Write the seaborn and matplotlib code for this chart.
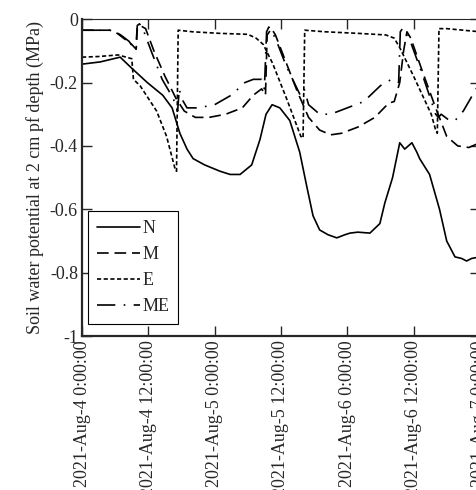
import pandas as pd
import numpy as np
import seaborn as sns
import matplotlib.pyplot as plt

start = pd.Timestamp("2021-08-04 00:00:00")

# hours since start, and soil water potential (MPa)
n_hours = [0, 3.3, 6.9, 9.0, 11.8, 14.6, 16.3, 17.7, 19.0, 20.1, 22.2, 25.0, 26.8, 28.6,
           30.7, 32.2, 33.3, 34.4, 35.8, 37.6, 39.4, 40.7, 41.8, 43.0, 44.5, 46.1, 47.6,
           48.5, 49.9, 52.1, 53.9, 54.8, 56.2, 57.5, 58.4, 59.7, 60.6, 61.1, 62.9, 64.7,
           66.0, 67.5, 68.7, 69.6, 70.5, 72.0]
n_vals = [-0.142, -0.135, -0.12, -0.155, -0.20, -0.24, -0.28, -0.36, -0.41, -0.44, -0.46,
          -0.48, -0.49, -0.49, -0.46, -0.38, -0.30, -0.27, -0.28, -0.32, -0.42, -0.53,
          -0.62, -0.665, -0.68, -0.69, -0.68, -0.675, -0.672, -0.675, -0.645, -0.58,
          -0.50, -0.39, -0.41, -0.39, -0.42, -0.44, -0.49, -0.60, -0.70, -0.75, -0.755,
          -0.763, -0.755, -0.75]

m_hours = [0, 5, 6, 7.5, 9, 9.8, 10.0, 10.5, 11.5, 13, 15, 17, 18.5, 20.5, 23, 26, 29, 31,
           32.5, 33.2, 33.5, 34.3, 35, 37, 39, 41, 43, 45, 47, 50, 53, 55.5, 56.5, 57.5,
           58.2, 58.8, 59.5, 61.5, 64, 66, 68, 70, 72]
m_vals = [-0.035, -0.035, -0.04, -0.06, -0.08, -0.095, -0.03, -0.02, -0.03, -0.10, -0.18,
          -0.25, -0.29, -0.31, -0.31, -0.30, -0.28, -0.24, -0.22, -0.24, -0.05, -0.03,
          -0.05, -0.14, -0.23, -0.31, -0.35, -0.365, -0.36, -0.34, -0.31, -0.265, -0.26,
          -0.20, -0.10, -0.04, -0.06, -0.16, -0.28, -0.37, -0.40, -0.405, -0.39]

e_hours = [0, 3, 6.5, 8, 9.0, 9.3, 10.5, 13.5, 15.3, 16.8, 17.1, 17.4, 20, 25, 30, 31.5,
           32.8, 34.5, 37, 39.6, 40.0, 40.3, 44, 50, 55, 56.5, 57.5, 60, 63.2, 64.0, 64.3,
           64.6, 66, 72]
e_vals = [-0.12, -0.118, -0.113, -0.12, -0.125, -0.19, -0.21, -0.29, -0.37, -0.47, -0.48,
          -0.035, -0.04, -0.045, -0.048, -0.06, -0.08, -0.14, -0.25, -0.37, -0.375, -0.035,
          -0.04, -0.045, -0.05, -0.06, -0.09, -0.18, -0.30, -0.35, -0.36, -0.03, -0.03,
          -0.04]

me_hours = [0, 5.5, 7, 8.5, 9.7, 10.0, 10.4, 11, 12.5, 14.5, 16.5, 17.3, 17.6, 18, 19, 21,
            24, 27, 29.5, 31, 32.5, 33, 33.4, 33.8, 35, 37, 39.5, 40.2, 41, 43, 45, 48, 51,
            54, 56, 57.3, 57.6, 58.0, 59, 61.5, 64, 64.5, 65, 66.5, 67.5, 69, 72]
me_vals = [-0.035, -0.035, -0.05, -0.07, -0.10, -0.02, -0.015, -0.03, -0.10, -0.19, -0.25,
           -0.29, -0.22, -0.25, -0.28, -0.28, -0.27, -0.24, -0.20, -0.19, -0.19, -0.22,
           -0.04, -0.025, -0.06, -0.15, -0.24, -0.22, -0.27, -0.30, -0.30, -0.28, -0.26,
           -0.21, -0.19, -0.20, -0.04, -0.03, -0.05, -0.17, -0.30, -0.31, -0.30, -0.32,
           -0.32, -0.29, -0.20]

series = ["N", "M", "E", "ME"]
hours = [n_hours, m_hours, e_hours, me_hours]
values = [n_vals, m_vals, e_vals, me_vals]

ytick_vals = [0, -0.2, -0.4, -0.6, -0.8, -1]
ytick_labels = ["0", "-0.2", "-0.4", "-0.6", "-0.8", "-1"]

frames = []
for name, h, v in zip(series, hours, values):
    frames.append(pd.DataFrame({"time": start + pd.to_timedelta(h, unit="h"),
                                "psi": v, "treatment": name}))
df = pd.concat(frames, ignore_index=True)

sns.set_style("ticks")
plt.rcParams["font.family"] = ["Liberation Serif", "DejaVu Serif"]
plt.rcParams["axes.unicode_minus"] = False
fs = 13

fig = plt.figure(figsize=(4.77, 4.90), dpi=100)
ax = fig.add_axes([0.172, 0.314, 0.834, 0.647])

dashes = {"N": "", "M": (7, 3.5), "E": (2.5, 1.5), "ME": (11, 5, 1, 5)}
sns.lineplot(data=df, x="time", y="psi", hue="treatment", style="treatment",
             hue_order=series, style_order=series,
             palette={s: "black" for s in series}, dashes=dashes,
             estimator=None, sort=False, linewidth=1.2, legend=False, ax=ax)

ax.set_xlim(start, start + pd.Timedelta(hours=72))
ax.set_ylim(-1, 0)
xticks = [start + pd.Timedelta(hours=12 * i) for i in range(7)]
ax.set_xticks(xticks)
ax.set_xticklabels([f"{t.year}-{t:%b}-{t.day} {t.hour}:00:00" for t in xticks],
                   rotation=90, fontsize=fs)
ax.set_yticks(ytick_vals)
ax.set_yticklabels(ytick_labels, fontsize=fs)
ax.set_xlabel("")
ax.set_ylabel("Soil water potential at 2 cm pf depth (MPa)", fontsize=fs, labelpad=4)

ax.tick_params(direction="in", length=7, width=1, top=True, right=True, pad=3)
for side in ["left", "bottom"]:
    ax.spines[side].set_linewidth(1.6)
ax.spines["top"].set_linewidth(0.8)
ax.spines["right"].set_linewidth(0.8)

leg = ax.legend(ax.lines[:4], series, loc="lower left", bbox_to_anchor=(0.015, 0.038),
                borderaxespad=0, fancybox=False, edgecolor="black", framealpha=1,
                fontsize=fs, handlelength=2.4, handletextpad=0.1, labelspacing=0.5,
                borderpad=0.5)
leg.get_frame().set_linewidth(0.8)

fig.savefig("out.png", dpi=100)
